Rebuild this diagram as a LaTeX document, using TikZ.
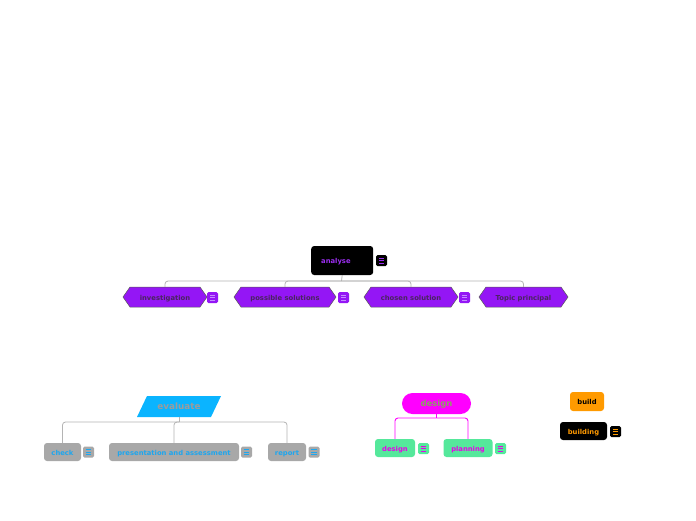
\documentclass[tikz,border=0pt]{standalone}
\usepackage{fontspec}
\setmainfont{DejaVu Sans}
\usetikzlibrary{shapes.symbols}
\definecolor{hexpurple}{HTML}{9416F5}
\definecolor{hextext}{HTML}{4A2560}
\definecolor{hexline}{HTML}{C68CFF}
\definecolor{anatext}{HTML}{9B2EF0}
\definecolor{evalblue}{HTML}{0AB4FF}
\definecolor{evalgrey}{HTML}{A8A8A8}
\definecolor{evaltext}{HTML}{1EA6EE}
\definecolor{evaltitle}{HTML}{9C9C9C}
\definecolor{desmag}{HTML}{FF00FF}
\definecolor{destext}{HTML}{8E9E68}
\definecolor{desgreen}{HTML}{55E89B}
\definecolor{childmag}{HTML}{E800E8}
\definecolor{bldorange}{HTML}{FF9A00}
\definecolor{connGrey}{HTML}{B4B4B4}
\tikzset{
  lbl/.style={font=\fontsize{6.8}{8}\selectfont\bfseries, inner sep=0pt, text height=1.45ex, text depth=0.35ex},
  hexbox/.style={lbl, shape=signal, signal to=west and east, signal pointer angle=110,
    fill=hexpurple, draw=black!65, line width=0.5pt, text=hextext, minimum height=20pt},
  evbox/.style={lbl, rounded corners=3pt, fill=evalgrey, text=evaltext, minimum height=18pt},
  dsbox/.style={lbl, rounded corners=3pt, fill=desgreen, text=childmag, minimum height=18pt},
  noteb/.style={rounded corners=1.5pt, minimum width=11pt, minimum height=11pt, inner sep=0pt},
  conn/.style={draw=connGrey, line width=0.8pt},
  mconn/.style={draw=desmag, line width=0.9pt},
}
\newcommand\noteicon[4]{%
  \node[noteb, fill=#3] (#1) at (#2) {};
  \foreach \yy in {-2.3,0,2.3}
    \draw[#4, line width=0.6pt] ([xshift=-2.6pt,yshift=\yy pt]#1.center) -- ([xshift=2.6pt,yshift=\yy pt]#1.center);
}
\begin{document}
\begin{tikzpicture}[x=1pt,y=-1pt]
\useasboundingbox (0,0) rectangle (696,520);
\fill[white] (0,0) rectangle (696,520);

% ---------------- analyse group
\node[lbl, anchor=west, fill=black, rounded corners=3pt, text=anatext, text width=42pt,
  inner xsep=10pt, minimum height=29pt, align=left] (analyse) at (311,260.5) {analyse};
\noteicon{anote}{381.5,260.5}{black}{anatext}

\node[hexbox, minimum width=84pt] (inv) at (165,297) {investigation};
\node[hexbox, minimum width=102pt] (poss) at (285,297) {possible solutions};
\node[hexbox, minimum width=94pt] (chosen) at (411,297) {chosen solution};
\node[hexbox, minimum width=89pt] (topic) at (523.5,297) {Topic principal};
\noteicon{invnote}{212.5,297.5}{hexpurple}{hexline}
\noteicon{possnote}{343.5,297.5}{hexpurple}{hexline}
\noteicon{chosennote}{464.5,297.5}{hexpurple}{hexline}

\coordinate (abus) at (341.5,281);
\draw[conn] (analyse.south) -- (abus);
\foreach \c in {inv,poss,chosen,topic}
  \draw[conn, rounded corners=3pt] (abus) -| (\c.north);

% ---------------- evaluate group
\fill[evalblue] (137,417) -- (147,396) -- (221,396) -- (211,417) -- cycle;
\node[lbl, font=\fontsize{8.8}{10}\selectfont\bfseries, text=evaltitle, minimum width=74pt, minimum height=21pt] (evaluate) at (179,406.5) {evaluate};

\node[evbox, minimum width=37pt] (check) at (62.5,452) {check};
\node[evbox, minimum width=130pt] (pres) at (174,452) {presentation and assessment};
\node[evbox, minimum width=38pt] (report) at (287,452) {report};
\noteicon{checknote}{88.5,452}{evalgrey}{evaltext}
\noteicon{presnote}{246.5,452}{evalgrey}{evaltext}
\noteicon{reportnote}{314,452}{evalgrey}{evaltext}

\coordinate (ebus) at (179,422);
\draw[conn] (evaluate.south) -- (ebus);
\foreach \c in {check,pres,report}
  \draw[conn, rounded corners=3pt] (ebus) -| (\c.north);

% ---------------- design group
\node[lbl, font=\fontsize{8.5}{10}\selectfont\bfseries, fill=desmag, text=destext, rounded corners=10.5pt,
  minimum width=69pt, minimum height=21pt] (design) at (436.5,403.5) {design};
\node[dsbox, minimum width=40pt] (design2) at (395,448) {design};
\node[dsbox, minimum width=49pt] (planning) at (468,448) {planning};
\noteicon{design2note}{423.5,448.5}{desgreen}{childmag}
\noteicon{planningnote}{500.5,448.5}{desgreen}{childmag}

\coordinate (dbus) at (436.5,418);
\draw[mconn] (design.south) -- (dbus);
\draw[mconn, rounded corners=3pt] (dbus) -| (design2.north);
\draw[mconn, rounded corners=3pt] (dbus) -| (planning.north);

% ---------------- build
\node[lbl, fill=bldorange, text=black, rounded corners=3pt, minimum width=34pt, minimum height=19pt] (build) at (587,401.5) {build};
\node[lbl, fill=black, text=bldorange, rounded corners=3pt, minimum width=47pt, minimum height=18pt] (building) at (583.5,431) {building};
\noteicon{buildingnote}{615.5,431.5}{black}{bldorange}
\end{tikzpicture}
\end{document}
